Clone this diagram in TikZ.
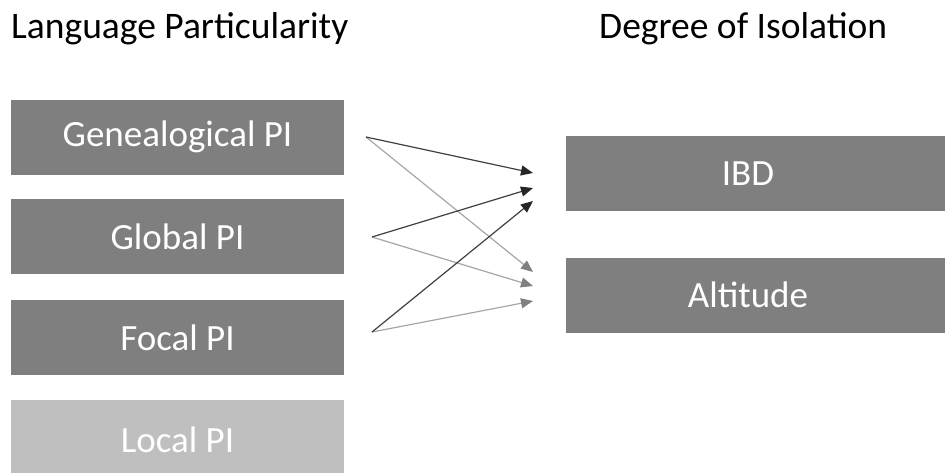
\documentclass[tikz,border=0pt]{standalone}
\usepackage{fontspec}
\setmainfont{Carlito}
\usetikzlibrary{arrows.meta}
\definecolor{boxdark}{HTML}{7F7F7F}
\definecolor{boxlight}{HTML}{BFBFBF}
\definecolor{lnDark}{HTML}{404040}
\definecolor{hdDark}{HTML}{262626}
\definecolor{lnLight}{HTML}{A6A6A6}
\definecolor{hdLight}{HTML}{808080}
\begin{document}
\begin{tikzpicture}[x=1pt,y=-1pt,
  lbox/.style={fill=boxdark,draw=none,minimum width=333pt,minimum height=75pt,inner sep=0pt,text=white,font=\fontsize{37}{40}\selectfont},
  rbox/.style={lbox,minimum width=400pt},
  title/.style={anchor=base west,inner sep=0pt,font=\fontsize{37.5}{40}\selectfont},
  darr/.style={draw=lnDark,line width=1.2pt,-{Triangle[length=12pt,width=10pt,color=hdDark]}},
  larr/.style={draw=lnLight,line width=1.2pt,-{Triangle[length=12pt,width=10pt,color=hdLight]}}]
\useasboundingbox (0,0) rectangle (945,472);
\node[title] (t1) at (11,38) {Language Particularity};
\node[title] (t2) at (599,38) {Degree of Isolation};
\node[lbox] (gen) at (177.5,137) {Genealogical PI};
\node[lbox] (glo) at (177.5,236.5) {Global PI};
\node[lbox] (foc) at (177.5,337.5) {Focal PI};
\node[lbox,fill=boxlight,minimum height=80pt] (loc) at (177.5,440) {Local PI};
\begin{scope}
\clip (0,0) rectangle (945,472);
\node[rbox] (ibd) at (766,173.5) {\hspace*{-36pt}IBD};
\node[rbox] (alt) at (766,295) {\hspace*{-36pt}Altitude};
\end{scope}
\coordinate (sg) at (366,137);
\coordinate (sl) at (372,237);
\coordinate (sf) at (372,332);
\coordinate (i1) at (533,173);
\coordinate (i2) at (533,188);
\coordinate (i3) at (533,201);
\coordinate (a1) at (533,272);
\coordinate (a2) at (533,286);
\coordinate (a3) at (533,301);
\draw[larr] (sg) -- (a1);
\draw[larr] (sl) -- (a2);
\draw[larr] (sf) -- (a3);
\draw[darr] (sg) -- (i1);
\draw[darr] (sl) -- (i2);
\draw[darr] (sf) -- (i3);
\end{tikzpicture}
\end{document}
